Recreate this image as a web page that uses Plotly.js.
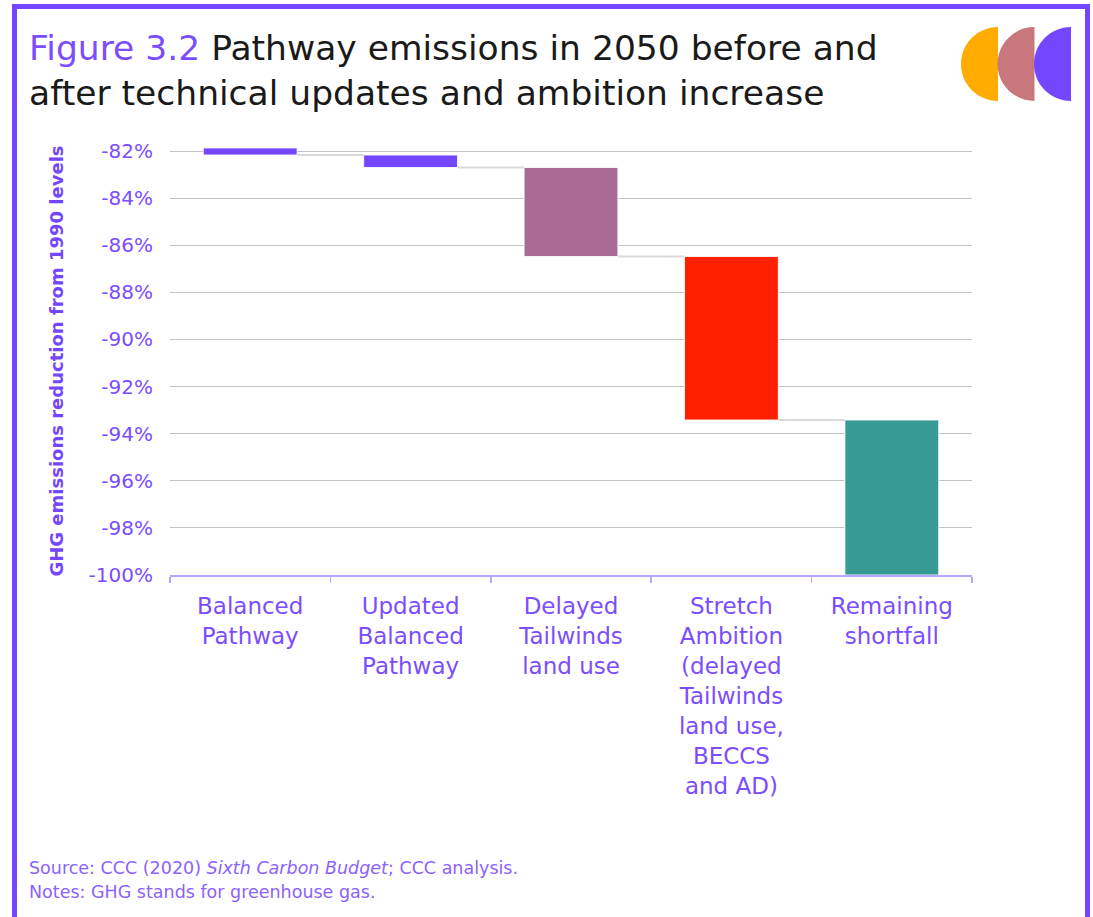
<!DOCTYPE html>
<html>
<head>
<meta charset="utf-8">
<script src="https://cdn.plot.ly/plotly-3.0.1.min.js"></script>
<style>
  html, body { margin: 0; padding: 0; background: #ffffff; }
  #chart { width: 1093px; height: 917px; }
</style>
</head>
<body>
<div id="chart"></div>
<script>
// ---- Data ----
const categories = ['Balanced Pathway', 'Updated Balanced Pathway', 'Delayed Tailwinds land use',
  'Stretch Ambition (delayed Tailwinds land use, BECCS and AD)', 'Remaining shortfall'];
const tickLabels = ['Balanced<br>Pathway', 'Updated<br>Balanced<br>Pathway', 'Delayed<br>Tailwinds<br>land use',
  'Stretch<br>Ambition<br>(delayed<br>Tailwinds<br>land use,<br>BECCS<br>and AD)', 'Remaining<br>shortfall'];
const barStart = [-81.87, -82.17, -82.70, -86.48, -93.42];
const barEnd   = [-82.17, -82.70, -86.48, -93.42, -100.0];
const barColors = ['#7546ff', '#7546ff', '#a86b96', '#ff2000', '#379a94'];
const yTicks = [-100, -98, -96, -94, -92, -90, -88, -86, -84, -82];

// ---- Layout geometry ----
const W = 1093, H = 917;
const M = { l: 170, r: 121, t: 147, b: 342 };
const PW = W - M.l - M.r, PH = H - M.t - M.b;
const px = v => (v - M.l) / PW;
const py = v => (H - M.b - v) / PH;

const FONT = 'DejaVu Sans, Noto Sans, sans-serif';
const PURPLE = '#7546ff';
const TXT = '#7b4dff';
const barWidth = 0.585;

const barLen = barStart.map((s, i) => barEnd[i] - s);

const trace = {
  type: 'bar',
  x: categories,
  base: barStart,
  y: barLen,
  width: barWidth,
  marker: { color: barColors, line: { color: 'rgba(255,255,255,0.85)', width: 1 } },
  hoverinfo: 'skip'
};

const shapes = [];
// connectors between consecutive bars
for (let i = 0; i < categories.length - 1; i++) {
  shapes.push({
    type: 'line', xref: 'x', yref: 'y',
    x0: i + barWidth / 2, x1: i + 1 - barWidth / 2,
    y0: barEnd[i], y1: barEnd[i],
    line: { color: '#dadada', width: 2 }
  });
}
// frame
const frameRect = (x0, y0, x1, y1) => ({
  type: 'rect', xref: 'paper', yref: 'paper',
  x0: px(x0), x1: px(x1), y0: py(y0), y1: py(y1),
  fillcolor: PURPLE, line: { width: 0 }, layer: 'above'
});
shapes.push(frameRect(12, 4, 1090, 9));
shapes.push(frameRect(12, 4, 17, 917));
shapes.push(frameRect(1085, 4, 1090, 917));

// logo half discs
function halfDisc(cx, cy, r, color) {
  const k = 0.5523;
  const P = (x, y) => px(x).toFixed(5) + ',' + py(y).toFixed(5);
  const path = 'M' + P(cx, cy - r) +
    ' C' + P(cx - k * r, cy - r) + ' ' + P(cx - r, cy - k * r) + ' ' + P(cx - r, cy) +
    ' C' + P(cx - r, cy + k * r) + ' ' + P(cx - k * r, cy + r) + ' ' + P(cx, cy + r) + ' Z';
  return { type: 'path', xref: 'paper', yref: 'paper', path: path, fillcolor: color, line: { width: 0 } };
}
shapes.push(halfDisc(998, 64, 37, '#ffab00'));
shapes.push(halfDisc(1034.5, 64, 37, '#c8777c'));
shapes.push(halfDisc(1071, 64, 37, '#7546ff'));

const annotations = [
  {
    xref: 'paper', yref: 'paper', x: px(27), y: py(26), xanchor: 'left', yanchor: 'top', align: 'left',
    text: '<span style="color:#7b4dff">Figure 3.2</span> Pathway emissions in 2050 before and<br>after technical updates and ambition increase',
    showarrow: false,
    font: { family: FONT, size: 34.5, color: '#1a1a1a' }
  },
  {
    xref: 'paper', yref: 'paper', x: px(27), y: py(868), xanchor: 'left', yanchor: 'middle',
    text: 'Source: CCC (2020) <i>Sixth Carbon Budget</i>; CCC analysis.', showarrow: false,
    font: { family: FONT, size: 17.5, color: '#8c62ff' }
  },
  {
    xref: 'paper', yref: 'paper', x: px(27), y: py(892), xanchor: 'left', yanchor: 'middle',
    text: 'Notes: GHG stands for greenhouse gas.', showarrow: false,
    font: { family: FONT, size: 17.5, color: '#8c62ff' }
  }
];

const layout = {
  width: W, height: H,
  margin: M,
  paper_bgcolor: '#ffffff', plot_bgcolor: '#ffffff',
  showlegend: false,
  xaxis: {
    type: 'category',
    tickvals: categories, ticktext: tickLabels,
    tickson: 'boundaries',
    ticks: 'outside', ticklen: 6, tickcolor: '#b9a6ff', tickwidth: 1.5,
    showline: true, linecolor: '#b9a6ff', linewidth: 1.5,
    showgrid: false, zeroline: false,
    tickfont: { family: FONT, size: 23, color: TXT },
    ticklabelstandoff: 10,
    fixedrange: true
  },
  yaxis: {
    range: [-100, -81.83],
    tickvals: yTicks,
    ticktext: yTicks.map(v => v + '%'),
    showgrid: true, gridcolor: '#c4c4c4', gridwidth: 1,
    zeroline: false, showline: false, ticks: '',
    tickfont: { family: FONT, size: 20, color: TXT },
    ticklabelstandoff: 16,
    title: {
      text: '<b>GHG emissions reduction from 1990 levels</b>',
      font: { family: FONT, size: 18, color: '#7546ff' },
      standoff: 20
    },
    fixedrange: true
  },
  shapes: shapes,
  annotations: annotations,
  bargap: 0.4
};

Plotly.newPlot('chart', [trace], layout, { displayModeBar: false, staticPlot: true });
</script>
</body>
</html>
